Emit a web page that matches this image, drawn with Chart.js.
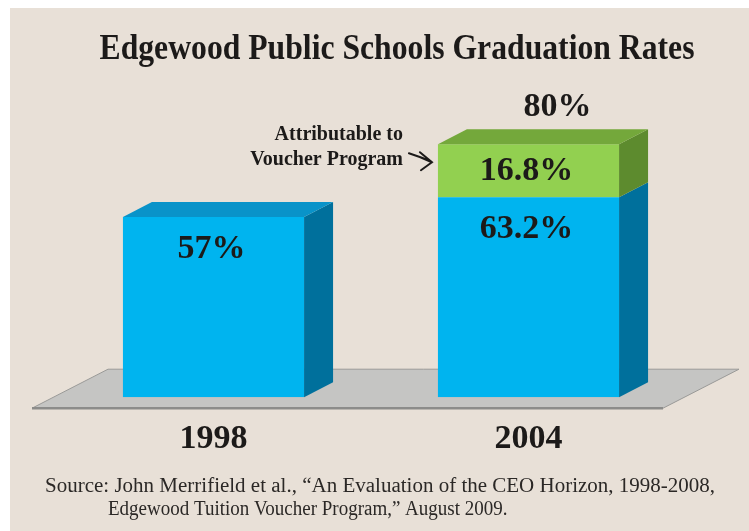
<!DOCTYPE html>
<html>
<head>
<meta charset="utf-8">
<script src="https://cdn.jsdelivr.net/npm/chart.js@4"></script>
<style>
  html, body { margin: 0; padding: 0; background: #ffffff; }
  canvas { display: block; }
</style>
</head>
<body>
<canvas id="grafica" width="749" height="531"></canvas>
<script>
// Datos de la gráfica
const years = ['1998', '2004'];
const baseRates = [57, 63.2];        // tasa sin el programa
const voucherRates = [null, 16.8];   // parte atribuible al programa de vouchers
const chartTitle = 'Edgewood Public Schools Graduation Rates';
const noteLines = ['Attributable to', 'Voucher Program'];
const sourceLines = [
  'Source: John Merrifield et al., \u201cAn Evaluation of the CEO Horizon, 1998-2008,',
  'Edgewood Tuition Voucher Program,\u201d August 2009.'
];

const DX = 29, DY = -15;   // profundidad de la caja 3D
const serif = '"Liberation Serif", "Times New Roman", serif';

function textoAncho(ctx, txt, x, y, font, sx, align) {
  ctx.save();
  ctx.font = font;
  ctx.textAlign = align || 'center';
  ctx.translate(x, y);
  ctx.scale(sx, 1);
  ctx.fillText(txt, 0, 0);
  ctx.restore();
}

function poly(ctx, pts, color) {
  ctx.beginPath();
  ctx.moveTo(pts[0][0], pts[0][1]);
  for (let i = 1; i < pts.length; i++) ctx.lineTo(pts[i][0], pts[i][1]);
  ctx.closePath();
  ctx.fillStyle = color;
  ctx.fill();
}

const caras = { 0: { top: '#0993c9', side: '#00709c' }, 1: { top: '#74a83b', side: '#5d8b2e' } };

const fondo3d = {
  id: 'fondo3d',
  beforeDraw(chart) {
    const ctx = chart.ctx;
    ctx.save();
    ctx.fillStyle = '#e8e0d7';
    ctx.fillRect(10, 8, chart.width - 10, chart.height - 8);
    ctx.restore();
  },
  beforeDatasetsDraw(chart) {
    // piso gris
    const ctx = chart.ctx, a = chart.chartArea;
    const fl = a.left - 24, fr = a.right - 23, fy = a.bottom + 11;
    const pts = [[fl, fy], [fl + 76, fy - 39], [fr + 76, fy - 39], [fr, fy]];
    ctx.save();
    poly(ctx, pts, '#c5c5c3');
    ctx.strokeStyle = '#9a9a98';
    ctx.lineWidth = 1;
    ctx.stroke();
    ctx.beginPath();
    ctx.moveTo(fl, fy);
    ctx.lineTo(fr, fy);
    ctx.strokeStyle = '#8c8c8a';
    ctx.lineWidth = 2.5;
    ctx.stroke();
    ctx.restore();
  },
  afterDatasetsDraw(chart) {
    const ctx = chart.ctx;
    ctx.save();
    chart.data.datasets.forEach((ds, di) => {
      const meta = chart.getDatasetMeta(di);
      meta.data.forEach((bar, i) => {
        if (ds.data[i] == null) return;
        const p = bar.getProps(['x', 'y', 'base', 'width'], true);
        const l = p.x - p.width / 2, r = p.x + p.width / 2;
        // cara lateral
        poly(ctx, [[r, p.y], [r + DX, p.y + DY], [r + DX, p.base + DY], [r, p.base]], caras[di].side);
        // cara superior solo en el segmento más alto
        const arriba = chart.data.datasets.every((d2, k) => k <= di || d2.data[i] == null);
        if (arriba) {
          poly(ctx, [[l, p.y], [l + DX, p.y + DY], [r + DX, p.y + DY], [r, p.y]], caras[di].top);
        }
      });
    });
    ctx.restore();
  },
  afterDraw(chart) {
    const ctx = chart.ctx;
    ctx.save();
    ctx.fillStyle = '#1c1a19';
    ctx.textBaseline = 'middle';
    // título
    textoAncho(ctx, chartTitle, 397, 50, 'bold 36px ' + serif, 0.88);
    // etiquetas de valores
    chart.data.datasets.forEach((ds, di) => {
      const meta = chart.getDatasetMeta(di);
      meta.data.forEach((bar, i) => {
        const v = ds.data[i];
        if (v == null) return;
        const p = bar.getProps(['x', 'y', 'base'], true);
        const cy = Math.min((p.y + p.base) / 2, p.y + 32);
        textoAncho(ctx, v + '%', p.x - 2, cy, 'bold 34px ' + serif, 1);
      });
    });
    // total encima de la barra apilada
    const topMeta = chart.getDatasetMeta(1);
    years.forEach((y, i) => {
      if (voucherRates[i] == null) return;
      const total = Math.round((baseRates[i] + voucherRates[i]) * 10) / 10;
      const p = topMeta.data[i].getProps(['x', 'y', 'width'], true);
      textoAncho(ctx, total + '%', p.x + DX, p.y + DY - 22, 'bold 34px ' + serif, 1);
      // nota con flecha
      const l = p.x - p.width / 2;
      textoAncho(ctx, noteLines[0], l - 35, p.y - 9, 'bold 20px ' + serif, 1, 'right');
      textoAncho(ctx, noteLines[1], l - 35, p.y + 16, 'bold 20px ' + serif, 1, 'right');
      ctx.strokeStyle = '#1c1a19';
      ctx.lineWidth = 2;
      ctx.lineCap = 'round';
      ctx.beginPath();
      ctx.moveTo(l - 29, p.y + 9);
      ctx.quadraticCurveTo(l - 16, p.y + 13, l - 6, p.y + 18);
      ctx.moveTo(l - 18, p.y + 8);
      ctx.lineTo(l - 6, p.y + 18);
      ctx.lineTo(l - 17, p.y + 26);
      ctx.stroke();
    });
    // fuente
    ctx.fillStyle = '#2b2826';
    textoAncho(ctx, sourceLines[0], 45, 487, '20px ' + serif, 1.05, 'left');
    textoAncho(ctx, sourceLines[1], 108, 510, '20px ' + serif, 0.95, 'left');
    ctx.restore();
  }
};

new Chart(document.getElementById('grafica').getContext('2d'), {
  type: 'bar',
  data: {
    labels: years,
    datasets: [{
      label: 'Graduation rate',
      data: baseRates,
      backgroundColor: '#00b4ef',
      categoryPercentage: 1,
      barPercentage: 0.575
    }, {
      label: 'Attributable to Voucher Program',
      data: voucherRates,
      backgroundColor: '#92d050',
      categoryPercentage: 1,
      barPercentage: 0.575
    }]
  },
  options: {
    responsive: false,
    animation: false,
    devicePixelRatio: 1,
    layout: { padding: { left: 56, right: 63, top: 81, bottom: 49 } },
    plugins: {
      legend: { display: false },
      title: { display: false },
      tooltip: { enabled: false }
    },
    scales: {
      x: {
        stacked: true,
        grid: { display: false, drawTicks: false },
        border: { display: false },
        ticks: {
          color: '#1c1a19',
          padding: 22,
          font: { family: serif, size: 34, weight: 'bold' }
        }
      },
      y: {
        stacked: true,
        display: false,
        min: 0,
        max: 100
      }
    }
  },
  plugins: [fondo3d]
});
</script>
</body>
</html>
